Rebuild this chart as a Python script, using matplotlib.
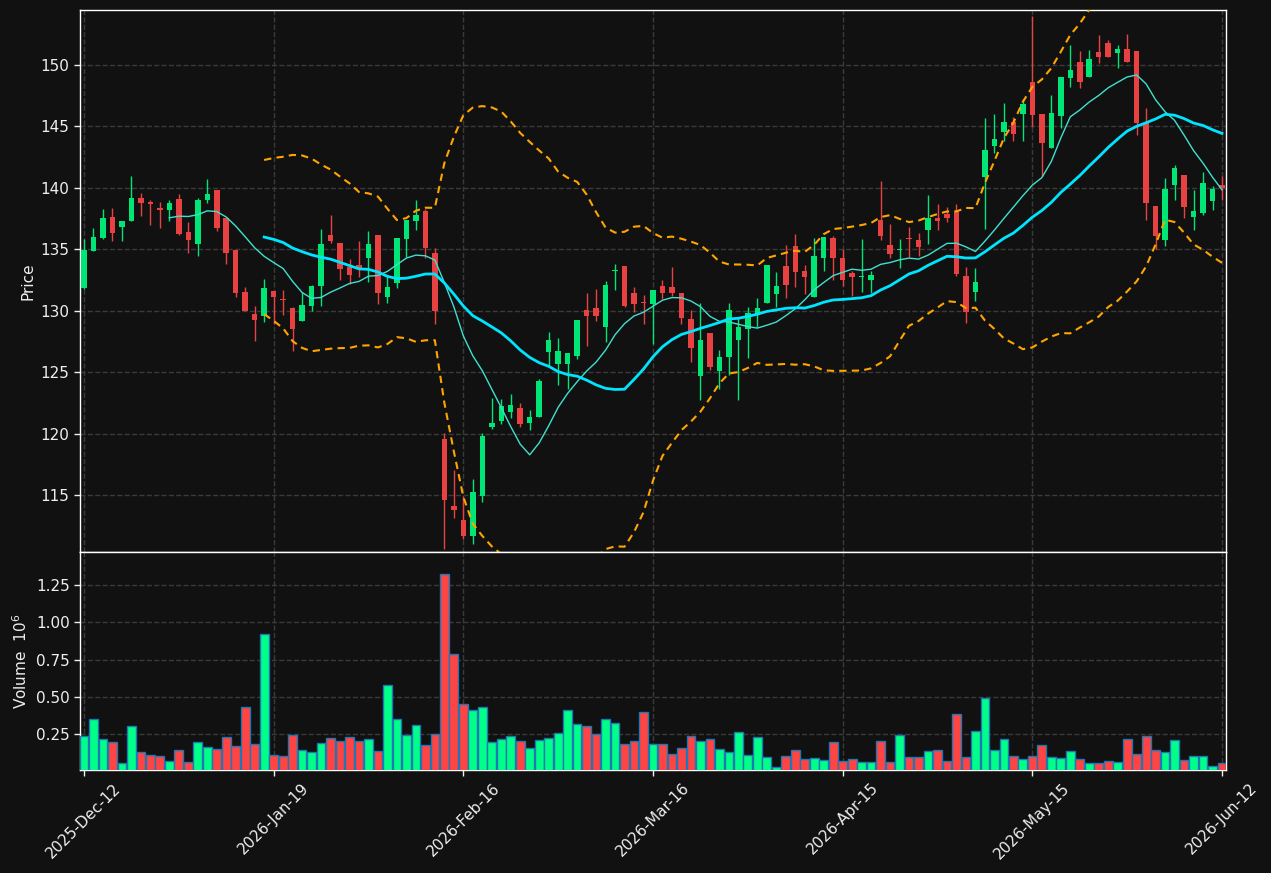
import numpy as np
import pandas as pd
import matplotlib
matplotlib.use("Agg")
import matplotlib.pyplot as plt
from matplotlib.ticker import FormatStrFormatter

tick_labels = ['2025-Dec-12', '2026-Jan-19', '2026-Feb-16', '2026-Mar-16',
               '2026-Apr-15', '2026-May-15', '2026-Jun-12']

opens = [131.84,134.86,135.94,137.62,136.82,137.31,139.16,138.84,138.36,138.19,
139.07,136.40,135.40,139.0,139.81,137.54,134.92,131.50,129.71,129.57,
131.59,130.93,130.19,129.14,130.39,132.01,136.14,135.49,133.55,133.69,
134.26,136.14,131.13,132.24,135.86,137.31,138.10,134.69,119.55,114.09,
112.95,111.70,114.88,120.52,121.0,121.74,122.08,120.89,121.34,126.64,
125.64,125.64,126.30,130.08,130.19,128.69,133.21,133.67,131.42,130.68,
130.56,132.04,131.90,131.47,129.31,124.67,128.20,125.07,126.27,127.63,
128.49,129.62,130.59,131.39,133.67,135.23,133.21,131.13,134.29,135.89,
134.32,133.04,132.78,132.50,137.36,135.37,134.92,135.91,135.74,136.60,
137.54,137.85,138.02,132.81,131.56,140.92,143.37,144.51,145.36,146.04,
148.61,146.02,143.28,145.82,148.98,150.26,149.06,151.08,151.82,151.02,
151.31,151.14,145.28,138.56,135.77,140.27,141.01,137.65,137.96,138.96,
140.24]

highs = [135.83,136.77,138.25,138.33,137.28,141.0,139.56,138.99,138.82,139.0,
139.5,137.19,139.16,140.72,139.81,137.54,134.92,131.96,130.42,132.56,
131.59,131.67,130.34,131.56,132.13,136.62,137.76,135.49,134.23,135.69,
136.45,136.14,132.75,135.91,137.36,139.0,138.30,135.14,120.03,117.07,
114.88,116.31,120.06,122.88,122.79,123.22,122.51,121.94,124.45,128.29,
127.80,126.58,129.28,131.47,131.79,132.44,133.81,133.67,131.90,131.27,
131.67,132.47,133.52,131.47,130.08,130.62,128.20,126.84,130.62,129.40,
130.28,131.05,133.75,133.18,135.32,136.28,133.75,135.89,135.97,136.11,
135.03,133.24,135.83,133.24,140.52,137.02,135.83,136.85,136.31,139.44,
138.65,138.45,138.65,133.52,133.47,145.65,145.99,146.90,145.76,147.27,
153.96,146.02,147.55,149.03,151.62,151.14,151.25,152.45,152.02,151.62,
152.50,151.14,146.47,138.56,140.78,141.83,141.01,139.81,141.26,140.13,
141.0]

lows = [131.8,134.86,135.86,135.69,135.69,137.3,137.68,136.99,136.74,137.31,
136.14,134.72,134.46,138.73,136.45,133.81,131.13,129.94,127.52,129.11,
128.91,129.68,126.72,129.14,129.94,130.42,135.49,132.53,132.16,132.78,
132.30,130.56,130.62,131.84,134.35,136.60,134.26,128.91,110.6,113.12,
111.41,111.0,114.43,120.38,120.80,121.23,120.52,120.29,121.34,125.44,
123.93,123.65,126.07,127.12,129.20,127.49,131.67,130.28,129.91,128.91,
127.29,130.96,131.16,128.91,125.84,122.71,125.19,123.65,124.73,122.74,
126.12,128.71,130.59,130.31,131.05,131.90,131.39,131.13,133.27,132.47,
132.04,131.16,131.56,131.42,135.74,134.26,133.47,134.35,134.46,135.43,
136.60,137.19,132.81,129.0,130.82,136.68,142.80,143.80,143.80,143.85,
144.99,141.0,143.28,144.91,148.18,148.09,149.06,150.20,150.63,149.74,
150.26,144.28,137.42,135.03,135.23,138.99,137.51,136.60,137.82,138.16,
139.02]

closes = [134.92,136.0,137.54,136.34,137.28,139.16,138.76,138.70,138.19,138.76,
136.23,135.74,139.0,139.5,136.71,134.69,131.42,129.94,129.25,131.82,
131.13,130.90,128.51,130.45,131.99,135.40,135.69,133.41,132.90,133.49,
135.40,131.42,131.90,135.91,137.36,137.79,135.12,129.97,114.57,113.75,
111.70,115.22,119.83,120.89,122.28,122.34,120.80,121.34,124.30,127.63,
126.75,126.58,129.28,129.57,129.57,132.13,133.30,130.39,130.56,130.62,
131.67,131.47,131.42,129.40,126.95,127.58,125.41,126.27,130.08,128.71,
129.85,130.19,133.75,131.99,132.13,133.15,132.75,134.49,135.97,134.32,
132.53,132.75,132.84,132.87,136.08,134.63,134.97,135.86,135.17,137.54,
137.31,137.54,132.98,129.91,132.33,143.06,143.94,145.36,144.37,146.81,
145.93,143.65,146.10,149.03,149.60,148.58,150.48,150.68,150.63,151.28,
150.26,145.28,138.79,136.08,139.87,141.58,138.47,138.10,140.38,139.87,
139.98]

volumes_m = [0.234,0.354,0.214,0.194,0.054,0.301,0.128,0.108,0.101,0.068,
0.141,0.061,0.194,0.161,0.148,0.228,0.168,0.434,0.181,0.921,
0.108,0.101,0.241,0.141,0.128,0.188,0.221,0.201,0.228,0.201,
0.214,0.134,0.581,0.354,0.241,0.308,0.174,0.248,1.321,0.788,
0.454,0.414,0.434,0.194,0.214,0.234,0.201,0.154,0.208,0.221,
0.254,0.408,0.314,0.301,0.248,0.348,0.321,0.181,0.201,0.401,
0.181,0.181,0.114,0.154,0.234,0.201,0.214,0.148,0.128,0.261,
0.108,0.228,0.094,0.028,0.101,0.141,0.081,0.088,0.074,0.194,
0.068,0.081,0.061,0.061,0.201,0.061,0.241,0.094,0.094,0.134,
0.141,0.068,0.381,0.094,0.268,0.494,0.141,0.214,0.101,0.081,
0.101,0.174,0.094,0.088,0.134,0.081,0.054,0.054,0.068,0.061,
0.214,0.114,0.234,0.141,0.128,0.208,0.074,0.101,0.101,0.034,
0.054]

BG = '#111111'
UP_C = '#00e676'
DN_C = '#e84142'
VUP_C = '#00ff88'
VDN_C = '#ff4444'
TXT = '#eeeeee'

o = np.array(opens); h = np.array(highs); l = np.array(lows); c = np.array(closes)
v = np.array(volumes_m)
n = len(c)
x = np.arange(n)
up = c >= o

cs = pd.Series(c)
ma10 = cs.rolling(10).mean()
ma20 = cs.rolling(20).mean()
sd20 = cs.rolling(20).std()
bb_up = ma20 + 2 * sd20
bb_lo = ma20 - 2 * sd20

fig = plt.figure(figsize=(12.71, 8.73), dpi=100, facecolor=BG)
ax = fig.add_axes([80/1271, 1-552/873, (1226-80)/1271, (552-10)/873], facecolor=BG)
axv = fig.add_axes([80/1271, 1-770/873, (1226-80)/1271, (770-552)/873], facecolor=BG, sharex=ax)

# candles
ax.vlines(x, l, h, colors=np.where(up, UP_C, DN_C), linewidth=1.0, zorder=3)
body_h = np.maximum(np.abs(c - o), 0.08)
ax.bar(x, body_h, bottom=np.minimum(o, c), width=0.58,
       color=np.where(up, UP_C, DN_C), linewidth=0, zorder=4)

# moving averages & bollinger
ax.plot(x, ma10, color='#40e0d0', linewidth=1.0, zorder=5)
ax.plot(x, ma20, color='#00e5ff', linewidth=2.0, zorder=5)
ax.plot(x, bb_up, color='#ffa500', linewidth=1.5, linestyle=(0, (3.5, 2.5)), zorder=5)
ax.plot(x, bb_lo, color='#ffa500', linewidth=1.5, linestyle=(0, (3.5, 2.5)), zorder=5)

# volume
axv.bar(x, v, width=0.92, color=np.where(up, VUP_C, VDN_C),
        edgecolor='#1f77b4', linewidth=1.0, zorder=3)

ax.set_xlim(-0.42, n - 1 + 0.42)
ax.set_ylim(110.36, 154.48)
axv.set_ylim(0.0084, 1.4715)

tick_idx = np.linspace(0, n - 1, len(tick_labels))
axv.set_xticks(tick_idx)
axv.set_xticklabels(tick_labels, rotation=45, ha='center')
ax.tick_params(axis='x', which='both', bottom=False, labelbottom=False)

ax.set_yticks(np.arange(115, 151, 5))
axv.set_yticks([0.25, 0.5, 0.75, 1.0, 1.25])
axv.yaxis.set_major_formatter(FormatStrFormatter('%.2f'))

for a in (ax, axv):
    a.grid(True, color='#3a3a3a', linestyle='--', linewidth=1.0, zorder=0)
    a.set_axisbelow(True)
    for s in a.spines.values():
        s.set_color('white')
        s.set_linewidth(1.0)
    a.tick_params(colors=TXT, labelsize=11, length=4, width=1)
    for t in a.get_xticklabels() + a.get_yticklabels():
        t.set_color(TXT)

ax.set_ylabel('Price', color=TXT, fontsize=11)
axv.set_ylabel('Volume  $10^6$', color=TXT, fontsize=11)
ax.yaxis.set_label_coords(-0.039, 0.5)
axv.yaxis.set_label_coords(-0.044, 0.5)

fig.savefig('out.png', dpi=100, facecolor=BG)
